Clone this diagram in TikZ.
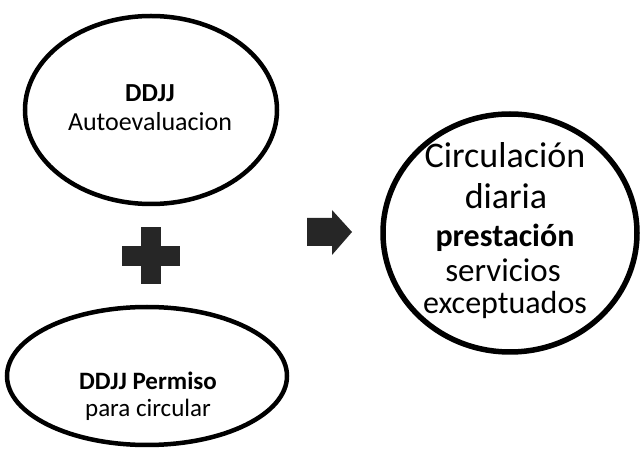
\documentclass[tikz,border=0pt]{standalone}
\usepackage{fontspec}
\setmainfont{Carlito}
\usetikzlibrary{shapes.geometric}
\begin{document}
\begin{tikzpicture}[x=1pt,y=-1pt,
  oval/.style={draw=black,line width=4.5pt,ellipse,inner sep=0pt},
  lbl/.style={align=center,inner sep=0pt,text=black},
  glyph/.style={fill=black!85,draw=none}]
\useasboundingbox (0,0) rectangle (641,449);
% ellipses
\node[oval,minimum width=252pt,minimum height=188pt] (e1) at (151,110) {};
\node[oval,minimum width=280pt,minimum height=138pt] (e2) at (147,376) {};
\node[oval,line width=5.5pt,minimum width=254pt,minimum height=238pt] (e3) at (510,233) {};
% texts
\node[lbl,font=\fontsize{26}{30}\selectfont\bfseries] (t1a) at (150,93) {DDJJ};
\node[lbl,font=\fontsize{26}{30}\selectfont] (t1b) at (150,122) {Autoevaluacion};
\node[lbl,font=\fontsize{25}{29}\selectfont\bfseries] (t2a) at (148,381) {DDJJ Permiso};
\node[lbl,font=\fontsize{25}{29}\selectfont] (t2b) at (148,410) {para circular};
\node[lbl,font=\fontsize{36}{40}\selectfont] (t3a) at (505,155) {Circulación};
\node[lbl,font=\fontsize{36}{40}\selectfont] (t3b) at (506,196) {diaria};
\node[lbl,font=\fontsize{32}{36}\selectfont\bfseries] (t3c) at (505,238) {prestación};
\node[lbl,font=\fontsize{33}{37}\selectfont] (t3d) at (503,270) {servicios};
\node[lbl,font=\fontsize{32}{36}\selectfont] (t3e) at (505,305) {exceptuados};
% plus sign
\node[glyph,minimum width=58pt,minimum height=20pt,inner sep=0pt] (plush) at (151,256) {};
\node[glyph,minimum width=20pt,minimum height=57pt,inner sep=0pt] (plusv) at (151,256) {};
% arrow
\fill[black!85] (307,218) -- (332,218) -- (332,210) -- (352,232) -- (332,255) -- (332,246) -- (307,246) -- cycle;
\end{tikzpicture}
\end{document}
